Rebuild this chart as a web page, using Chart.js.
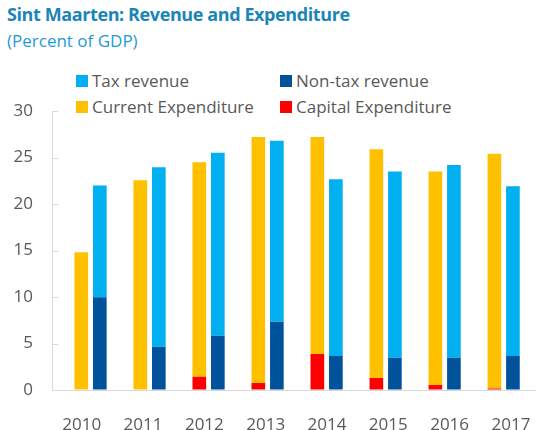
<!DOCTYPE html>
<html>
<head>
<meta charset="utf-8">
<script src="https://cdn.jsdelivr.net/npm/chart.js@4"></script>
<style>
  html, body { margin: 0; padding: 0; background: #fff; }
  #wrap { position: relative; width: 548px; height: 430px; font-family: "Open Sans", sans-serif; }
  #title { position: absolute; left: 7px; top: 2px; font-size: 18px; letter-spacing: -0.4px; font-weight: bold; color: #1b85b8; white-space: nowrap; }
  #subtitle { position: absolute; left: 7px; top: 29px; font-size: 17px; color: #1f9ad6; white-space: nowrap; }
  .legend-item { position: absolute; font-size: 17px; color: #595959; white-space: nowrap; line-height: 20px; }
  .legend-item span { position: absolute; left: 0; top: 4px; width: 12px; height: 12px; }
  .legend-item div { margin-left: 16px; }
  #chart { position: absolute; left: 0; top: 0; }
</style>
</head>
<body>
<div id="wrap">
  <div id="title">Sint Maarten: Revenue and Expenditure</div>
  <div id="subtitle">(Percent of GDP)</div>
  <div id="legend"></div>
  <canvas id="chart" width="548" height="430"></canvas>
</div>
<script>
const years = ['2010', '2011', '2012', '2013', '2014', '2015', '2016', '2017'];
const capitalExp = [0, 0, 1.43, 0.75, 3.87, 1.29, 0.54, 0.15];
const currentExp = [14.8, 22.55, 23.07, 26.45, 23.33, 24.6, 22.96, 25.25];
const nonTaxRevenue = [9.97, 4.66, 5.84, 7.35, 3.65, 3.47, 3.47, 3.65];
const taxRevenue = [12.03, 19.29, 19.66, 19.45, 19.0, 20.03, 20.73, 18.25];
const yTicks = [0, 5, 10, 15, 20, 25, 30];

const gray = '#595959';
const lineColor = '#d9d9d9';

function points(values) {
  return values.map((v, i) => ({ x: i, y: v }));
}

const datasets = [
  { label: 'Capital Expenditure', data: points(capitalExp), backgroundColor: '#ff0000', stack: 'exp' },
  { label: 'Current Expenditure', data: points(currentExp), backgroundColor: '#ffc000', stack: 'exp' },
  { label: 'Non-tax revenue', data: points(nonTaxRevenue), backgroundColor: '#00529b', stack: 'rev' },
  { label: 'Tax revenue', data: points(taxRevenue), backgroundColor: '#00b0f0', stack: 'rev' }
];

// legend in the same order as the original: two columns, two rows
const legendOrder = [
  ['Tax revenue', 76, 71],
  ['Non-tax revenue', 280, 71],
  ['Current Expenditure', 76, 97],
  ['Capital Expenditure', 280, 97]
];
document.getElementById('legend').innerHTML = legendOrder.map(([name, left, top]) => {
  const ds = datasets.find(d => d.label === name);
  return `<div class="legend-item" style="left:${left}px;top:${top}px">
            <span style="background:${ds.backgroundColor}"></span><div>${name}</div>
          </div>`;
}).join('');

// short tick marks drawn on the inside of the value axis
const innerTicks = {
  id: 'innerTicks',
  afterDatasetsDraw(chart) {
    const y = chart.scales.y;
    const ctx = chart.ctx;
    ctx.save();
    ctx.strokeStyle = lineColor;
    ctx.lineWidth = 1;
    yTicks.forEach(t => {
      const py = Math.round(y.getPixelForValue(t)) + 0.5;
      ctx.beginPath();
      ctx.moveTo(chart.chartArea.left, py);
      ctx.lineTo(chart.chartArea.left + 6, py);
      ctx.stroke();
    });
    ctx.restore();
  }
};

const yearTicks = (scale) => { scale.ticks = years.map((_, i) => ({ value: i })); };

new Chart(document.getElementById('chart'), {
  type: 'bar',
  data: { datasets },
  plugins: [innerTicks],
  options: {
    responsive: false,
    animation: false,
    events: [],
    categoryPercentage: 0.628,
    barPercentage: 0.737,
    layout: { padding: { top: 111, right: 0, bottom: 0, left: 0 } },
    plugins: {
      legend: { display: false },
      tooltip: { enabled: false }
    },
    scales: {
      // axis the bars sit on
      x: {
        type: 'linear',
        display: false,
        offset: false,
        min: -0.653,
        max: 7.545,
        afterBuildTicks: yearTicks
      },
      // year labels are spaced a little wider than the bar pairs in the original
      xl: {
        type: 'linear',
        position: 'bottom',
        offset: false,
        min: -0.485,
        max: 7.406,
        afterBuildTicks: yearTicks,
        afterFit: (scale) => { scale.height = 40; },
        grid: { display: false, offset: false },
        border: { display: true, color: lineColor, width: 1 },
        ticks: {
          color: gray,
          font: { family: 'Open Sans', size: 17 },
          padding: 17,
          maxRotation: 0,
          autoSkip: false,
          callback: (v) => years[v]
        }
      },
      y: {
        stacked: true,
        min: 0,
        max: 30,
        afterBuildTicks: (scale) => { scale.ticks = yTicks.map(v => ({ value: v })); },
        afterFit: (scale) => { scale.width = 52; },
        grid: { drawOnChartArea: false, drawTicks: false },
        border: { display: true, color: lineColor, width: 1 },
        ticks: {
          color: gray,
          font: { family: 'Open Sans', size: 17 },
          padding: 19
        }
      }
    }
  }
});
</script>
</body>
</html>
